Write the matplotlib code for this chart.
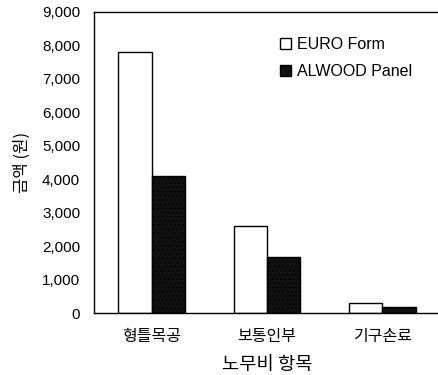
import numpy as np
import matplotlib
matplotlib.use("Agg")
from matplotlib import pyplot as plt

# data
categories = ["형틀목공", "보통인부", "기구손료"]
euro_form = [7800, 2600, 300]
alwood_panel = [4100, 1680, 190]
yticks = [0, 1000, 2000, 3000, 4000, 5000, 6000, 7000, 8000, 9000]

plt.rcParams['font.family'] = ['Liberation Sans', 'Noto Sans CJK KR', 'DejaVu Sans']
plt.rcParams['hatch.color'] = '#8a8a8a'
plt.rcParams['hatch.linewidth'] = 0.5

fig = plt.figure(figsize=(4.38, 3.75), dpi=100)
ax = fig.add_axes([0.2146, 0.165, 0.79, 0.803])

x = np.arange(len(categories))
w = 0.29
ax.bar(x - w / 2, euro_form, w, color='white', edgecolor='black', linewidth=1.0,
       label='EURO Form')
ax.bar(x + w / 2, alwood_panel, w, color='#111111', edgecolor='black', linewidth=1.0,
       hatch='....', label='ALWOOD Panel')

ax.set_xlim(-0.5, 2.5)
ax.set_ylim(0, 9000)
ax.set_yticks(yticks)
ax.set_yticklabels([f"{v:,}" for v in yticks], fontsize=11)
ax.set_xticks(x)
ax.set_xticklabels(categories, fontsize=11.5, family=['Noto Sans CJK KR'])
ax.tick_params(length=0, pad=10)
ax.tick_params(axis='x', pad=11)

ax.spines['right'].set_visible(False)
for s in ['left', 'top', 'bottom']:
    ax.spines[s].set_linewidth(1.0)

ax.set_ylabel("금액 (원)", fontsize=12, family=['Noto Sans CJK KR'], labelpad=8)
ax.set_xlabel("노무비 항목", fontsize=13.5, family=['Noto Sans CJK KR'], labelpad=6)

ax.legend(loc='upper left', bbox_to_anchor=(0.505, 0.955), frameon=False, fontsize=11.5,
          handlelength=0.7, handleheight=0.7, handletextpad=0.35, labelspacing=0.75,
          borderpad=0.2)

fig.savefig("out.png", dpi=100)
